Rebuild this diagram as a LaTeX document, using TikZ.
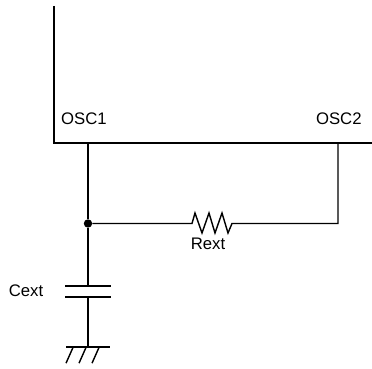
\documentclass[tikz,border=0pt]{standalone}
\usepackage{fontspec}
\setmainfont{Liberation Sans}
\tikzset{
  wire/.style={black, line width=1pt},
  pinlabel/.style={font=\fontsize{11.9}{14}\selectfont, inner sep=0pt},
  dot/.style={circle, fill=black, inner sep=0pt, minimum size=2.1mm}
}
\begin{document}
\begin{tikzpicture}
\useasboundingbox (0,0) rectangle (9.3,9.2);
% chip outline
\coordinate (boxtop) at (1.35,9.05);
\coordinate (boxcorner) at (1.35,5.625);
\coordinate (boxright) at (9.3,5.625);
\draw[wire] (boxtop) -- (boxcorner) -- (boxright);
\node[pinlabel] (osc1) at (2.1,6.22) {OSC1};
\node[pinlabel] (osc2) at (8.47,6.22) {OSC2};
\coordinate (pin1) at (2.2,5.625);
\coordinate (pin2) at (8.45,5.625);
% resistor branch
\node[dot] (junction) at (2.2,3.6125) {};
\coordinate (corner) at (8.45,3.6125);
\coordinate (rin) at (4.8,3.6125);
\coordinate (rout) at (5.8,3.6125);
\draw[wire] (pin1) -- (junction);
\draw[wire] (junction) -- (rin) -- (4.875,3.875) -- (5.05,3.375) -- (5.225,3.875)
-- (5.375,3.375) -- (5.55,3.875) -- (5.7,3.375) -- (rout) -- (corner) -- (pin2);
\node[pinlabel] (rext) at (5.2,3.1) {Rext};
% capacitor
\coordinate (capa) at (2.2,2.05);
\coordinate (capb) at (2.2,1.775);
\coordinate (gnd) at (2.2,0.525);
\draw[wire] (junction) -- (capa);
\draw[wire] (1.625,2.05) -- (2.775,2.05);
\draw[wire] (1.625,1.775) -- (2.775,1.775);
\draw[wire] (capb) -- (gnd);
\node[pinlabel] (cext) at (0.65,1.93) {Cext};
% ground
\draw[wire] (1.65,0.525) -- (2.75,0.525);
\foreach \gx in {0,0.325,0.65}
  \draw[wire] (1.83+\gx,0.525) -- (1.65+\gx,0.12);
\end{tikzpicture}
\end{document}
